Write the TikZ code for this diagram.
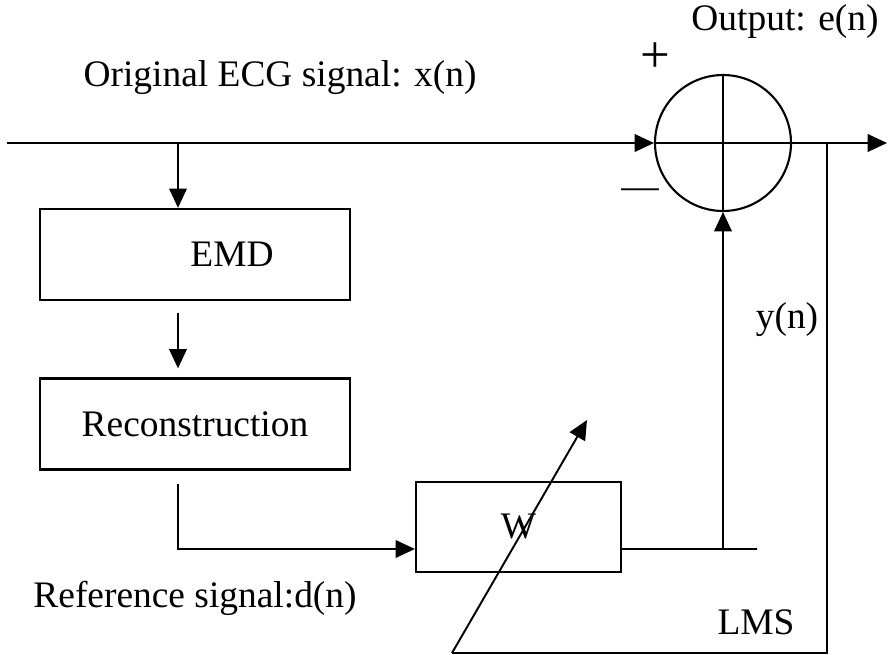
\documentclass[tikz,border=0pt]{standalone}
\usepackage{fontspec}
\setmainfont{Liberation Serif}
\usepackage{tikz}
\usetikzlibrary{arrows.meta, positioning, calc}

\begin{document}
\begin{tikzpicture}[
    x=0.02cm, y=-0.02cm,
    every node/.style={font=\fontsize{21.3}{25}\selectfont},
    bbox/.style={rectangle, draw=black, line width=1.3pt, minimum width=6.2cm, minimum height=1.82cm, inner sep=0pt},
    sumc/.style={circle, draw=black, line width=1.2pt, minimum size=2.72cm, inner sep=0pt},
    arr/.style={-{Triangle[length=11pt, width=10pt]}, line width=1.1pt},
    ln/.style={line width=1.1pt}
  ]
    \useasboundingbox (0,0) rectangle (888,655);

    % blocks
    \node[bbox] (emd) at (195,254.5) {\hspace*{1.48cm}EMD};
    \node[bbox] (rec) at (195,424) {Reconstruction};
    \node[bbox, minimum width=4.1cm, minimum height=1.8cm] (w) at (518.5,527) {W};
    \node[sumc] (sum) at (723,143) {};
    \draw[ln] (sum.north) -- (sum.south);
    \draw[ln] (sum.west) -- (sum.east);

    % points on the lines
    \coordinate (in) at (7,143);
    \coordinate (br) at (178,143);
    \coordinate (out) at (887,143);
    \coordinate (fb) at (827,143);
    \coordinate (wend) at (757,549);
    \coordinate (tap) at (723,549);
    \coordinate (adj) at (452,653);
    \coordinate (adjtip) at (587,420);

    % labels
    \node (xlab) at (280,78) {Original ECG signal: x(n)};
    \node (elab) at (785,22) {Output: e(n)};
    \node[font=\fontsize{30}{30}\selectfont] (plus) at (655,58) {+};
    \node (minus) at (640,194) {---};
    \node (ylab) at (787,320) {y(n)};
    \node (lms) at (756,622) {LMS};
    \node (dlab) at (195,598) {Reference signal:d(n)};

    % connections
    \draw[arr] (in) -- (sum.west);
    \draw[arr] (sum.east) -- (out);
    \draw[arr] (br) -- (br |- emd.north);
    \draw[arr, shorten <=0.24cm, shorten >=0.18cm] (br |- emd.south) -- (br |- rec.north);
    \draw[arr] ([yshift=-0.26cm]rec.south -| br) |- ([yshift=-0.44cm]w.west);
    \draw[ln] ([yshift=-0.44cm]w.east) -- (wend);
    \draw[arr] (tap) -- (sum.south);
    \draw[ln] (fb) |- (adj);
    \draw[arr] (adj) -- (adjtip);
\end{tikzpicture}
\end{document}
